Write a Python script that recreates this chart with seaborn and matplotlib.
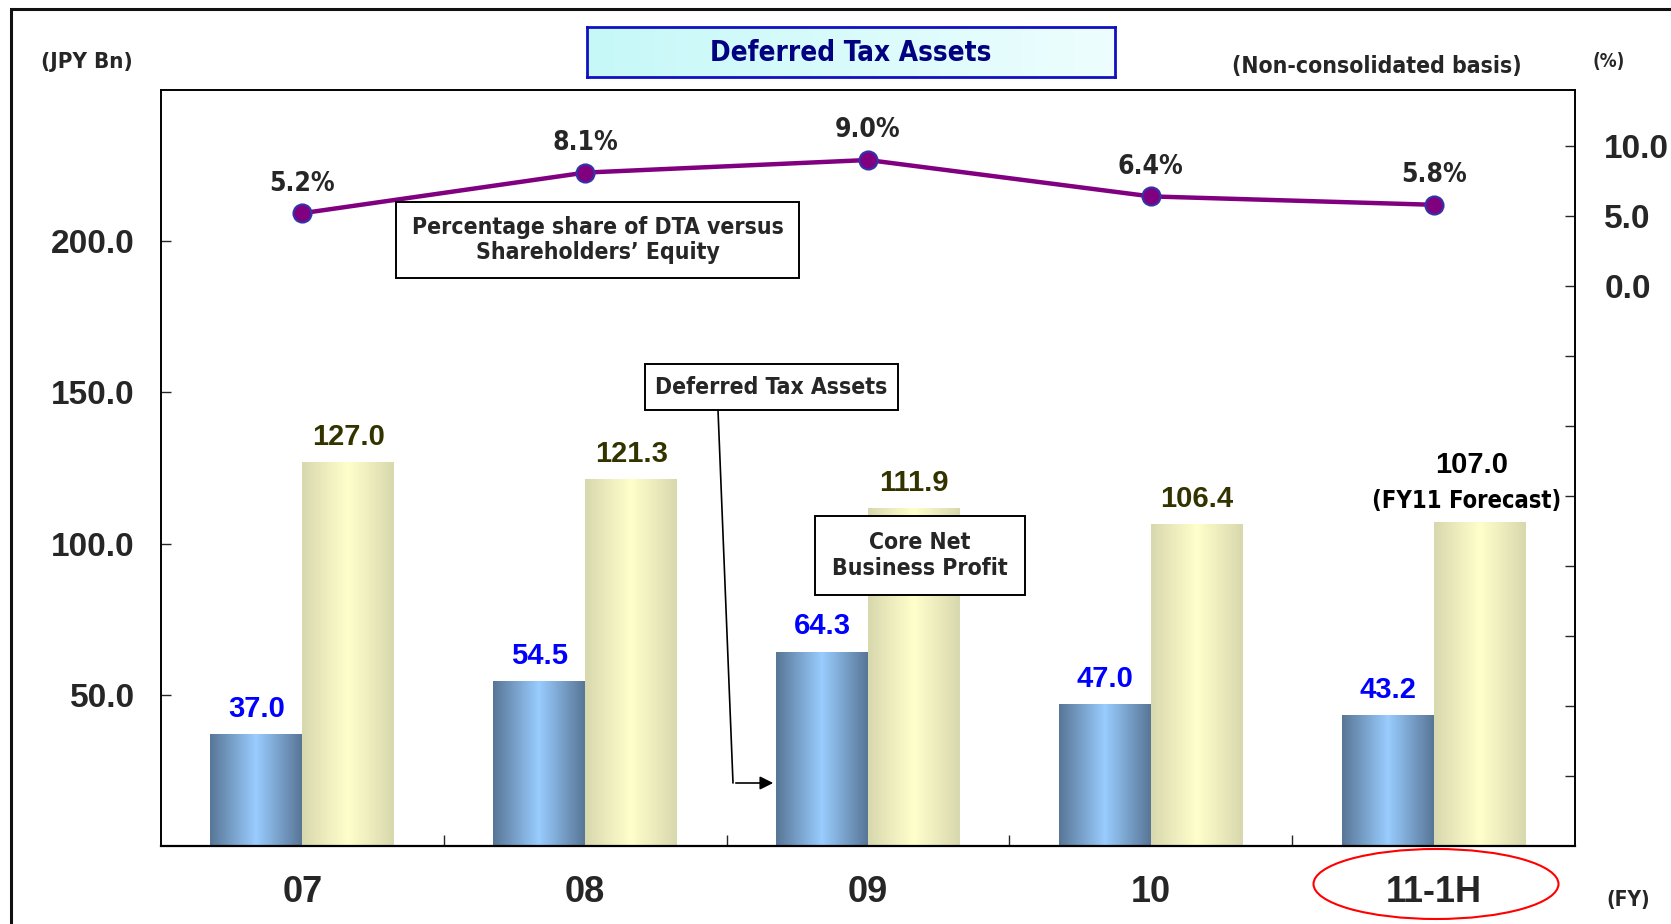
import numpy as np
import pandas as pd
import matplotlib.pyplot as plt
import seaborn as sns
from matplotlib import font_manager as fm
from matplotlib.colors import LinearSegmentedColormap
from matplotlib.patches import Rectangle, Ellipse, FancyArrowPatch
from matplotlib.lines import Line2D

# data
years = ['07', '08', '09', '10', '11-1H']
dta = [37.0, 54.5, 64.3, 47.0, 43.2]
core_profit = [127.0, 121.3, 111.9, 106.4, 107.0]
dta_share = [5.2, 8.1, 9.0, 6.4, 5.8]

sns.set_style('white')
plt.rcParams['font.family'] = ['Liberation Sans', 'DejaVu Sans']
plt.rcParams['font.weight'] = 'bold'
WIDE = 'Liberation Sans'

# look for a condensed bold face for the gothic-style labels
narrow = None
for f in fm.fontManager.ttflist:
    is_narrow = ('Narrow' in f.name or 'Condensed' in f.name
                 or 'condensed' in str(f.stretch) or 'Condensed' in f.fname)
    bold = f.weight in ('bold', 700, 600, 'semibold', 800) or 'Bold' in f.fname
    if is_narrow and bold and 'Oblique' not in f.fname and 'Italic' not in f.fname:
        narrow = f.fname
        break


def nf(size):
    if narrow:
        return fm.FontProperties(fname=narrow, size=size)
    return fm.FontProperties(family='Liberation Sans', weight='bold', size=size * 0.86)


W, H = 1671, 924
fig = plt.figure(figsize=(W / 100, H / 100), dpi=100)
fig.patch.set_facecolor('white')


def fx(px):
    return px / W


def fy(py):
    return 1 - py / H


ax = fig.add_axes([fx(161), fy(846), fx(1575) - fx(161), fy(90) - fy(846)])

df = pd.DataFrame({
    'year': years * 2,
    'value': dta + core_profit,
    'series': ['Deferred Tax Assets'] * len(years) + ['Core Net Business Profit'] * len(years),
})
sns.barplot(data=df, x='year', y='value', hue='series', width=0.65, gap=0,
            palette=['#7FA7D0', '#F0F0C0'], saturation=1, linewidth=0,
            legend=False, ax=ax)

# gradient fill clipped to each bar
blue_cmap = LinearSegmentedColormap.from_list('b', ['#587696', '#99CCFF'])
yell_cmap = LinearSegmentedColormap.from_list('y', ['#D8D8AE', '#FFFFCC'])
t = np.linspace(0, 1, 256)
prof = (1 - np.abs(2 * t - 1))[None, :]
for cont, cmap in zip(ax.containers, [blue_cmap, yell_cmap]):
    for p in cont.patches:
        x0, y0, w, h = p.get_x(), p.get_y(), p.get_width(), p.get_height()
        im = ax.imshow(prof, cmap=cmap, extent=[x0, x0 + w, y0, y0 + h],
                       aspect='auto', zorder=p.get_zorder() + 0.1, interpolation='bilinear')
        im.set_clip_path(p)

ax.set_xlim(-0.5, len(years) - 0.5)
ax.set_ylim(0, 250)

# value labels
ax.bar_label(ax.containers[0], labels=[f'{v:.1f}' for v in dta], padding=8,
             color='#0000FF', fontsize=21, family=WIDE, fontweight='bold')
ytxt = ax.bar_label(ax.containers[1], labels=[f'{v:.1f}' for v in core_profit], padding=8,
                    color='#333300', fontsize=21, family=WIDE, fontweight='bold')
ytxt[-1].set_color('black')
ytxt[-1].xyann = (-6, 31)
last = ax.containers[1].patches[-1]
ax.annotate('(FY11 Forecast)', (last.get_x() + last.get_width() / 2, last.get_height()),
            xytext=(-9, 7), textcoords='offset points', ha='center', va='bottom',
            fontproperties=nf(17), color='black')

# axes styling
ax.set_xlabel('')
ax.set_ylabel('')
ax.set_yticks([50, 100, 150, 200])
ax.set_yticklabels([f'{v:.1f}' for v in [50, 100, 150, 200]])
ax.tick_params(axis='y', direction='in', length=7, width=1, pad=19, labelsize=24,
               labelfontfamily=WIDE, left=True)
ax.set_xticks(range(len(years)))
ax.set_xticklabels(years)
ax.tick_params(axis='x', length=0, pad=21, labelsize=26, labelfontfamily=WIDE)
ax.set_xticks(np.arange(0.5, len(years) - 1, 1), minor=True)
ax.tick_params(axis='x', which='minor', direction='in', length=8, width=1, bottom=True)
for lab in ax.get_xticklabels() + ax.get_yticklabels():
    lab.set_fontweight('bold')
for s in ax.spines.values():
    s.set_color('black')
    s.set_linewidth(1.2)
ax.spines['bottom'].set_linewidth(1.6)

# percentage line on secondary axis
ax2 = ax.twinx()
sns.lineplot(x=np.arange(len(years)), y=dta_share, ax=ax2, color='#800080', linewidth=3.2,
             marker='o', markersize=13, markerfacecolor='#800080',
             markeredgecolor='#3333AA', markeredgewidth=1.5)
ax2.set_ylim(-40, 14)
ax2.set_yticks(np.arange(-35, 15, 5))
ax2.set_yticklabels(['' if v < 0 else f'{v:.1f}' for v in np.arange(-35, 15, 5)])
ax2.tick_params(axis='y', direction='in', length=7, width=1, pad=21, labelsize=24,
                labelfontfamily=WIDE, right=True)
for lab in ax2.get_yticklabels():
    lab.set_fontweight('bold')
ax2.set_ylabel('')
for s in ax2.spines.values():
    s.set_color('black')
    s.set_linewidth(1.2)
for i, v in enumerate(dta_share):
    ax2.annotate(f'{v}%', (i, v), xytext=(0, 12), textcoords='offset points',
                 ha='center', va='bottom', fontproperties=nf(19))

# title box with light cyan gradient
tax = fig.add_axes([fx(587), fy(77), fx(1115) - fx(587), fy(27) - fy(77)])
tax.imshow(t[None, :], cmap=LinearSegmentedColormap.from_list('c', ['#C6F8F8', '#EEFEFE']),
           aspect='auto', extent=[0, 1, 0, 1])
tax.set_xticks([])
tax.set_yticks([])
for s in tax.spines.values():
    s.set_color('#1010C0')
    s.set_linewidth(2)
tax.text(0.5, 0.48, 'Deferred Tax Assets', ha='center', va='center', fontproperties=nf(20),
         color='#000080', transform=tax.transAxes)


def boxed_text(x0, y0, x1, y1, text, size):
    fig.add_artist(Rectangle((fx(x0), fy(y1)), fx(x1) - fx(x0), fy(y0) - fy(y1),
                             transform=fig.transFigure, facecolor='white',
                             edgecolor='black', linewidth=1.4, zorder=5))
    fig.text(fx((x0 + x1) / 2), fy((y0 + y1) / 2), text, ha='center', va='center',
             fontproperties=nf(size), linespacing=1.15, zorder=6)


boxed_text(396, 202, 799, 278, 'Percentage share of DTA versus\nShareholders\u2019 Equity', 16.5)
boxed_text(645, 364, 898, 410, 'Deferred Tax Assets', 16.5)
boxed_text(815, 516, 1025, 595, 'Core Net\nBusiness Profit', 16.5)

# leader arrow to the DTA bar
fig.add_artist(Line2D([fx(718), fx(733)], [fy(410), fy(783)], transform=fig.transFigure,
                      color='black', linewidth=1.2))
fig.add_artist(FancyArrowPatch((fx(733), fy(783)), (fx(776), fy(783)),
                               transform=fig.transFigure, arrowstyle='-|>',
                               mutation_scale=20, linewidth=1.2, color='black'))

# header / unit texts
fig.text(fx(87), fy(62), '(JPY Bn)', ha='center', va='center', fontproperties=nf(16))
fig.text(fx(1377), fy(67), '(Non-consolidated basis)', ha='center', va='center',
         fontproperties=nf(16.5))
fig.text(fx(1609), fy(62), '(%)', ha='center', va='center', fontproperties=nf(13.5))
fig.text(fx(1628), fy(900), '(FY)', ha='center', va='center', fontproperties=nf(15))

# red ellipse around latest period, outer frame
fig.add_artist(Ellipse((fx(1436), fy(884)), 245 / W, 70 / H, transform=fig.transFigure,
                       fill=False, edgecolor='red', linewidth=1.5))
fig.add_artist(Rectangle((fx(11), -1), 2, fy(9) + 1, transform=fig.transFigure,
                         fill=False, edgecolor='#111111', linewidth=2.2))

fig.savefig('out.png', dpi=100)
